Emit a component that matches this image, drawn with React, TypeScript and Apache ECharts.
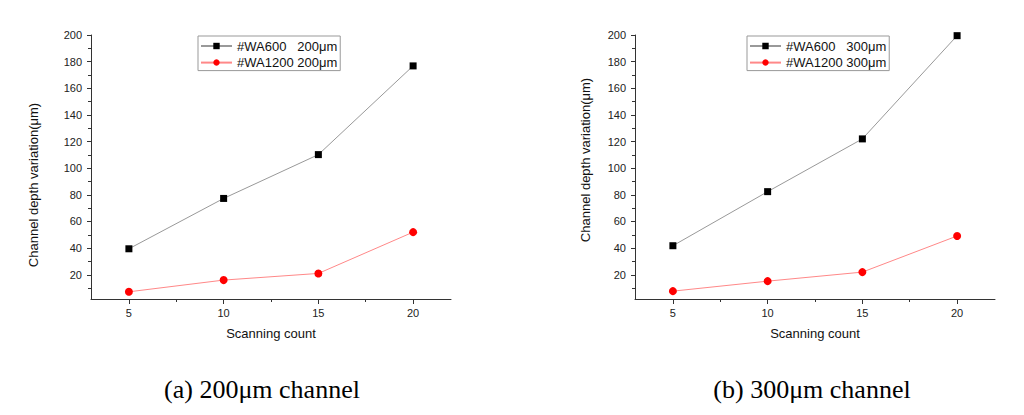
import React, { useEffect, useRef } from "react";
import * as echarts from "echarts";

const scanCounts = [5, 10, 15, 20];
const wa600_200 = [39.5, 77.3, 110.2, 176.8];
const wa1200_200 = [7.2, 16, 21, 52];
const wa600_300 = [41.8, 82.4, 122, 199.5];
const wa1200_300 = [7.7, 15.2, 22, 49.1];

const yMajor = [20, 40, 60, 80, 100, 120, 140, 160, 180, 200];
const yMinor = [10, 30, 50, 70, 90, 110, 130, 150, 170, 190];
const xMajor = [5, 10, 15, 20];
const xMinor = [7.5, 12.5, 17.5];

const legend200 = ["#WA600\u00a0\u00a0\u00a0200\u03bcm", "#WA1200 200\u03bcm"];
const legend300 = ["#WA600\u00a0\u00a0\u00a0300\u03bcm", "#WA1200 300\u03bcm"];

const yTitle = "Channel depth variation(\u03bcm)";
const xTitle = "Scanning count";
const captions = ["(a) 200\u03bcm channel", "(b) 300\u03bcm channel"];

const SANS = "'Liberation Sans', Arial, sans-serif";
const SERIF = "'Liberation Serif', 'Times New Roman', serif";

const X_MIN = 3;
const X_MAX = 22;
const Y_MIN = 1.8;
const Y_MAX = 200;

const grids = [
  { left: 91, top: 35, width: 360, height: 264 },
  { left: 635, top: 35, width: 360, height: 264 },
];

function pairs(ys: number[]) {
  return scanCounts.map((x, i) => [x, ys[i]]);
}

export default function App() {
  const ref = useRef<HTMLDivElement>(null);
  useEffect(() => {
    if (!ref.current) return;
    const chart = echarts.init(ref.current, undefined, { renderer: "svg" });

    const axisLineStyle = { color: "#333", width: 1 };
    const xAxes: any[] = [];
    const yAxes: any[] = [];
    grids.forEach((_, gi) => {
      xAxes.push({
        type: "value",
        gridIndex: gi,
        min: X_MIN,
        max: X_MAX,
        position: "bottom",
        axisLine: { show: true, lineStyle: axisLineStyle },
        axisTick: { show: true, inside: false, length: 5, customValues: xMajor, lineStyle: axisLineStyle },
        axisLabel: { show: true, customValues: xMajor, margin: 8, fontSize: 11, color: "#222", fontFamily: SANS },
        splitLine: { show: false },
      });
      xAxes.push({
        type: "value",
        gridIndex: gi,
        min: X_MIN,
        max: X_MAX,
        position: "bottom",
        axisLine: { show: false },
        axisTick: { show: true, inside: false, length: 3, customValues: xMinor, lineStyle: axisLineStyle },
        axisLabel: { show: false },
        splitLine: { show: false },
      });
      yAxes.push({
        type: "value",
        gridIndex: gi,
        min: Y_MIN,
        max: Y_MAX,
        position: "left",
        axisLine: { show: true, lineStyle: axisLineStyle },
        axisTick: { show: true, inside: false, length: 4, customValues: yMajor, lineStyle: axisLineStyle },
        axisLabel: { show: true, customValues: yMajor, margin: 9, fontSize: 11, color: "#222", fontFamily: SANS },
        splitLine: { show: false },
      });
      yAxes.push({
        type: "value",
        gridIndex: gi,
        min: Y_MIN,
        max: Y_MAX,
        position: "left",
        axisLine: { show: false },
        axisTick: { show: true, inside: false, length: 3, customValues: yMinor, lineStyle: axisLineStyle },
        axisLabel: { show: false },
        splitLine: { show: false },
      });
    });

    const mkSeries = (name: string, data: number[], gi: number, black: boolean) => ({
      type: "line",
      name,
      xAxisIndex: gi * 2,
      yAxisIndex: gi * 2,
      data: pairs(data),
      symbol: black ? "rect" : "circle",
      symbolSize: black ? 7 : 8,
      clip: false,
      itemStyle: { color: black ? "#000" : "#f00" },
      lineStyle: { color: black ? "#999" : "#f88", width: 1 },
    });

    const legendCommon = {
      orient: "vertical",
      itemWidth: 31,
      itemHeight: 8,
      itemGap: 2.6,
      borderColor: "#999",
      borderWidth: 1,
      padding: [3, 3, 1, 2],
      textStyle: { fontSize: 13, lineHeight: 14, color: "#111", fontFamily: SANS },
    };

    const graphics: any[] = [];
    const yTitlePos = [
      [33, 185],
      [585, 160],
    ];
    grids.forEach((g, gi) => {
      graphics.push({
        type: "text",
        x: yTitlePos[gi][0],
        y: yTitlePos[gi][1],
        rotation: Math.PI / 2,
        style: { text: yTitle, fontSize: 13, fontFamily: SANS, fill: "#111", align: "center", verticalAlign: "middle" },
      });
      graphics.push({
        type: "text",
        x: g.left + g.width / 2,
        y: 333,
        style: { text: xTitle, fontSize: 13, fontFamily: SANS, fill: "#111", align: "center", verticalAlign: "middle" },
      });
    });
    const capX = [262, 812];
    captions.forEach((c, i) => {
      graphics.push({
        type: "text",
        x: capX[i],
        y: 389,
        style: { text: c, fontSize: 26, fontFamily: SERIF, fill: "#000", align: "center", verticalAlign: "middle" },
      });
    });

    chart.setOption({
      animation: false,
      backgroundColor: "#fff",
      grid: grids.map((g) => ({ ...g, containLabel: false })),
      xAxis: xAxes,
      yAxis: yAxes,
      legend: [
        { ...legendCommon, left: 198, top: 36, data: legend200 },
        { ...legendCommon, left: 747, top: 36, data: legend300 },
      ],
      series: [
        mkSeries(legend200[0], wa600_200, 0, true),
        mkSeries(legend200[1], wa1200_200, 0, false),
        mkSeries(legend300[0], wa600_300, 1, true),
        mkSeries(legend300[1], wa1200_300, 1, false),
      ],
      graphic: graphics,
    });
    return () => chart.dispose();
  }, []);
  return (
    <div
      ref={ref}
      style={{ position: "fixed", left: 0, top: 0, width: 1024, height: 415, background: "#fff" }}
    />
  );
}
